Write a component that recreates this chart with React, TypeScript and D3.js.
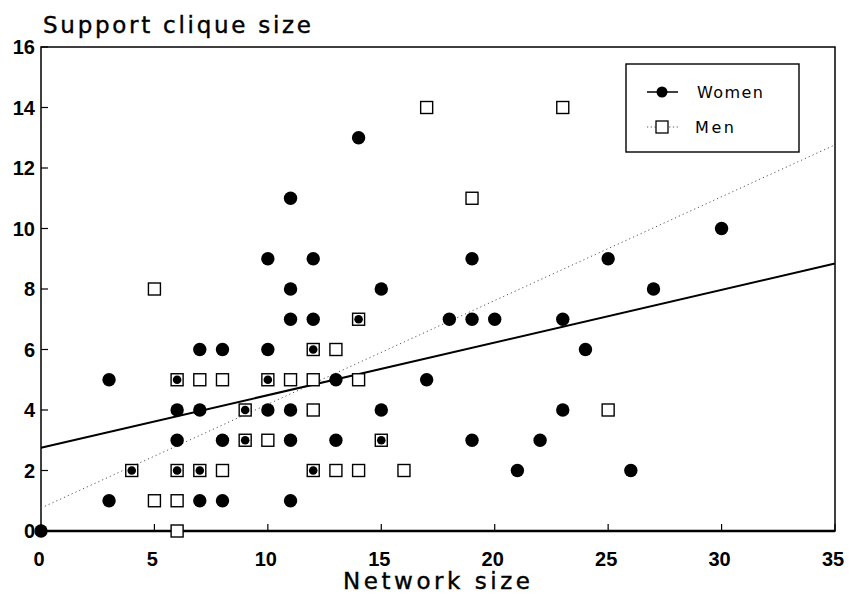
import React from "react";
import * as d3 from "d3";

// Women: filled circles [networkSize, supportCliqueSize]
const womenX = [0, 3, 3, 4, 6, 6, 6, 6, 7, 7, 7, 7, 8, 8, 8, 9, 9, 10, 10, 10, 10, 11, 11, 11, 11, 11, 11, 12, 12, 12, 12, 13, 13, 14, 14, 15, 15, 15, 17, 18, 19, 19, 19, 20, 21, 22, 23, 23, 24, 25, 26, 27, 30];
const womenY = [0, 1, 5, 2, 5, 4, 3, 2, 6, 4, 2, 1, 6, 3, 1, 4, 3, 9, 6, 5, 4, 11, 8, 7, 4, 3, 1, 9, 7, 6, 2, 5, 3, 13, 7, 8, 4, 3, 5, 7, 9, 7, 3, 7, 2, 3, 7, 4, 6, 9, 2, 8, 10];

// Men: open squares
const menX = [4, 5, 5, 6, 6, 6, 6, 7, 7, 8, 8, 9, 9, 10, 10, 11, 12, 12, 12, 12, 13, 13, 14, 14, 14, 15, 16, 17, 19, 23, 25];
const menY = [2, 8, 1, 5, 2, 1, 0, 5, 2, 5, 2, 4, 3, 5, 3, 5, 6, 5, 4, 2, 6, 2, 7, 5, 2, 3, 2, 14, 11, 14, 4];

// Fitted regression lines
const womenFit = { intercept: 2.75, slope: 0.174 };
const menFit = { intercept: 0.76, slope: 0.343 };

const xTicks = [0, 5, 10, 15, 20, 25, 30, 35];
const yTicks = [0, 2, 4, 6, 8, 10, 12, 14, 16];
const seriesNames = ["Women", "Men"];

const W = 849;
const H = 600;
const M = { left: 41, top: 47, right: 835, bottom: 531 };
const FONT = "'Liberation Sans', Arial, Helvetica, sans-serif";
const WIDE = "'DejaVu Sans', 'Liberation Sans', Arial, sans-serif";

export default function App() {
  const x = d3.scaleLinear().domain([0, 35]).range([M.left, M.right]);
  const y = d3.scaleLinear().domain([0, 16]).range([M.bottom, M.top]);

  const women = womenX.map((v, i) => ({ x: v, y: womenY[i] }));
  const men = menX.map((v, i) => ({ x: v, y: menY[i] }));
  const menKey = new Set(men.map((d) => `${d.x}_${d.y}`));

  const line = d3
    .line<[number, number]>()
    .x((d) => x(d[0]))
    .y((d) => y(d[1]));
  const fitPts = (f: { intercept: number; slope: number }): [number, number][] => [
    [0, f.intercept],
    [35, f.intercept + f.slope * 35],
  ];

  const sq = 12;

  return (
    <svg
      width={W}
      height={H}
      style={{ position: "absolute", left: 0, top: 0, background: "#fff" }}
      fontFamily={FONT}
    >
      <rect x={0} y={0} width={W} height={H} fill="#fff" />
      {/* Frame */}
      <rect
        x={M.left}
        y={M.top}
        width={M.right - M.left}
        height={M.bottom - M.top}
        fill="none"
        stroke="#000"
        strokeWidth={1.5}
      />
      <line x1={M.left} x2={M.right} y1={M.bottom} y2={M.bottom} stroke="#000" strokeWidth={2.6} />
      {/* Y ticks */}
      {yTicks.map((t) => (
        <g key={"y" + t}>
          <line x1={M.left} x2={M.left + 7} y1={y(t)} y2={y(t)} stroke="#000" strokeWidth={1.2} />
          <text
            x={35}
            y={y(t)}
            dy="0.36em"
            textAnchor="end"
            fontSize={20}
            fontWeight="bold"
            fill="#000"
          >
            {t}
          </text>
        </g>
      ))}
      {/* X ticks */}
      {xTicks.map((t) => (
        <g key={"x" + t}>
          <line x1={x(t)} x2={x(t)} y1={M.bottom} y2={M.bottom - 7} stroke="#000" strokeWidth={1.2} />
          <text
            x={x(t) - 2}
            y={566}
            textAnchor="middle"
            fontSize={20}
            fontWeight="bold"
            fill="#000"
          >
            {t}
          </text>
        </g>
      ))}
      {/* Titles */}
      <text
        x={43}
        y={33}
        fontFamily={WIDE}
        fontSize={23}
        fill="#000"
        stroke="#000"
        strokeWidth={0.4}
        textLength={268}
        lengthAdjust="spacing"
      >
        Support clique size
      </text>
      <text
        x={343}
        y={589}
        fontFamily={WIDE}
        fontSize={23}
        fill="#000"
        stroke="#000"
        strokeWidth={0.4}
        textLength={187}
        lengthAdjust="spacing"
      >
        Network size
      </text>

      {/* Regression lines */}
      <path d={line(fitPts(menFit)) || ""} fill="none" stroke="#555" strokeWidth={1} strokeDasharray="1.2,3" />
      <path d={line(fitPts(womenFit)) || ""} fill="none" stroke="#000" strokeWidth={2} />

      {/* Men squares */}
      {men.map((d, i) => (
        <rect
          key={"m" + i}
          x={x(d.x) - sq / 2}
          y={y(d.y) - sq / 2}
          width={sq}
          height={sq}
          fill="#fff"
          stroke="#000"
          strokeWidth={1.4}
        />
      ))}
      {/* Women circles */}
      {women.map((d, i) => (
        <circle
          key={"w" + i}
          cx={x(d.x)}
          cy={y(d.y)}
          r={menKey.has(`${d.x}_${d.y}`) ? 4.3 : 6.7}
          fill="#000"
        />
      ))}

      {/* Legend */}
      <g>
        <rect x={626} y={64} width={173} height={88} fill="#fff" stroke="#000" strokeWidth={1.4} />
        <line x1={647} x2={678} y1={92} y2={92} stroke="#000" strokeWidth={1.5} />
        <circle cx={662} cy={92} r={5.5} fill="#000" />
        <text x={697} y={92} dy="0.36em" fontFamily={WIDE} fontSize={16} fill="#000" textLength={66} lengthAdjust="spacing">
          {seriesNames[0]}
        </text>
        <line x1={647} x2={678} y1={127} y2={127} stroke="#555" strokeWidth={1} strokeDasharray="1.2,2.5" />
        <rect x={656} y={121} width={12} height={12} fill="#fff" stroke="#000" strokeWidth={1.3} />
        <text x={695} y={127} dy="0.36em" fontFamily={WIDE} fontSize={16} fill="#000" textLength={39} lengthAdjust="spacing">
          {seriesNames[1]}
        </text>
      </g>
    </svg>
  );
}
